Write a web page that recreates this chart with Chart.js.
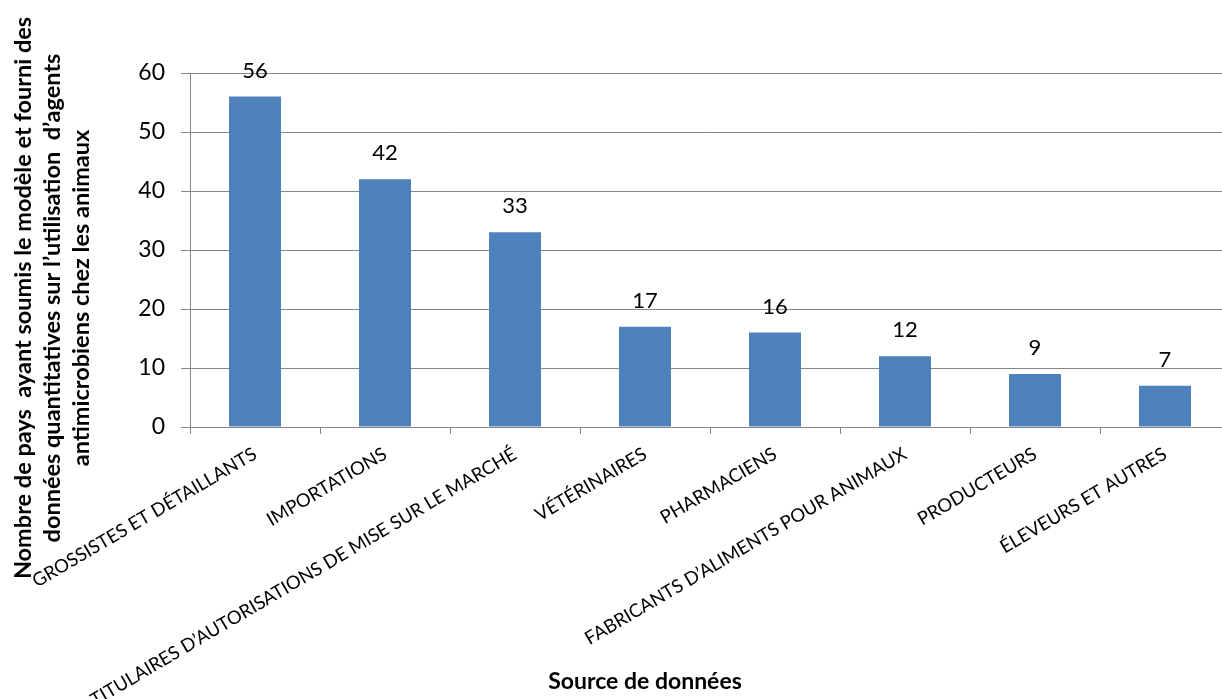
<!DOCTYPE html>
<html lang="fr">
<head>
<meta charset="utf-8">
<title>Source de données</title>
<script src="https://cdn.jsdelivr.net/npm/chart.js@4.4.1/dist/chart.umd.min.js"></script>
<style>
  html, body { margin: 0; padding: 0; background: #fff; overflow: hidden; }
  #wrap { width: 1222px; height: 699px; overflow: hidden; }
  canvas { display: block; }
</style>
</head>
<body>
<div id="wrap"><canvas id="chart" width="1240" height="699"></canvas></div>
<script>
const categories = [
  'GROSSISTES ET DÉTAILLANTS',
  'IMPORTATIONS',
  'TITULAIRES D’AUTORISATIONS DE MISE SUR LE MARCHÉ',
  'VÉTÉRINAIRES',
  'PHARMACIENS',
  'FABRICANTS D’ALIMENTS POUR ANIMAUX',
  'PRODUCTEURS',
  'ÉLEVEURS ET AUTRES'
];
const countries = [56, 42, 33, 17, 16, 12, 9, 7];
const yTicks = [0, 10, 20, 30, 40, 50, 60];

const yTitle = [
  'Nombre de pays  ayant soumis le modèle et fourni des',
  'données quantitatives sur l’utilisation  d’agents',
  'antimicrobiens chez les animaux'
];
const xTitle = 'Source de données';

const FONT = 'Lato, "Open Sans", sans-serif';
const GRID = '#868686';

Chart.defaults.color = '#000';
Chart.defaults.font.family = FONT;

// value above each bar
const barValues = {
  id: 'barValues',
  afterDatasetsDraw(chart) {
    const ctx = chart.ctx;
    const meta = chart.getDatasetMeta(0);
    ctx.save();
    ctx.font = '22px ' + FONT;
    ctx.fillStyle = '#000';
    ctx.textAlign = 'center';
    ctx.textBaseline = 'middle';
    meta.data.forEach((bar, i) => {
      ctx.fillText(String(countries[i]), bar.x, bar.y - 26);
    });
    ctx.restore();
  }
};

// axis titles
const axisTitles = {
  id: 'axisTitles',
  afterDraw(chart) {
    const ctx = chart.ctx;
    ctx.save();
    ctx.fillStyle = '#000';
    ctx.font = 'bold 23.5px ' + FONT;
    ctx.textAlign = 'center';
    ctx.textBaseline = 'middle';
    yTitle.forEach((line, i) => {
      ctx.save();
      ctx.translate(23 + i * 29, 298);
      ctx.rotate(-Math.PI / 2);
      ctx.fillText(line, 0, 0);
      ctx.restore();
    });
    ctx.font = 'bold 23px ' + FONT;
    ctx.fillText(xTitle, 645, 682);
    ctx.restore();
  }
};

new Chart(document.getElementById('chart'), {
  type: 'bar',
  data: {
    labels: categories,
    datasets: [{
      data: countries,
      backgroundColor: '#4F81BD',
      borderWidth: 0,
      categoryPercentage: 1,
      barPercentage: 0.4
    }]
  },
  options: {
    responsive: false,
    animation: false,
    devicePixelRatio: 1,
    layout: { padding: { top: 73, right: 10, left: 0, bottom: 0 } },
    plugins: {
      legend: { display: false },
      tooltip: { enabled: false }
    },
    scales: {
      x: {
        afterFit(scale) { scale.height = 272; },
        grid: {
          offset: true,
          drawOnChartArea: false,
          color: GRID,
          tickLength: 7
        },
        border: { color: GRID },
        ticks: {
          autoSkip: false,
          minRotation: 30.5,
          maxRotation: 30.5,
          padding: 9,
          font: { size: 18.5 }
        }
      },
      y: {
        min: 0,
        max: 60,
        afterFit(scale) { scale.width = 190; },
        afterBuildTicks(scale) { scale.ticks = yTicks.map(v => ({ value: v })); },
        grid: { color: GRID, tickLength: 9 },
        border: { color: GRID },
        ticks: {
          padding: 16,
          font: { size: 23 }
        }
      }
    }
  },
  plugins: [barValues, axisTitles]
});
</script>
</body>
</html>
